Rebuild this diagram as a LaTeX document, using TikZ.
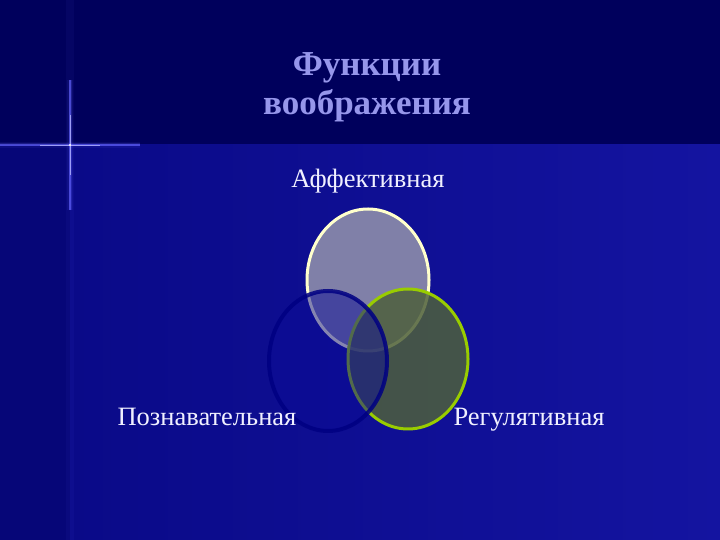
\documentclass[tikz,border=0pt]{standalone}
\usepackage{fontspec}
\setmainfont{Liberation Serif}
\usetikzlibrary{shapes.geometric}
\begin{document}
\begin{tikzpicture}[x=1pt,y=1pt,
  lbl/.style={text=white!94!blue, font=\fontsize{26.5}{30}\selectfont, inner sep=0pt, anchor=base},
  ttl/.style={text={rgb,255:red,150;green,150;blue,235}, font=\bfseries\fontsize{35}{39}\selectfont, align=center, inner sep=0pt}]
\definecolor{topband}{RGB}{0,0,92}
\definecolor{mainbg}{RGB}{10,10,136}
\definecolor{mainbg2}{RGB}{20,20,160}
\definecolor{leftbg}{RGB}{6,6,120}
\definecolor{afffill}{RGB}{128,128,168}
\definecolor{affline}{RGB}{255,255,204}
\definecolor{regfill}{RGB}{78,96,60}
\definecolor{regline}{RGB}{153,204,0}
\definecolor{cogfill}{RGB}{12,12,150}
\definecolor{cogline}{RGB}{0,0,130}
\useasboundingbox (0,0) rectangle (720,540);
% background
\fill[topband] (0,0) rectangle (720,540);
\shade[left color=mainbg, right color=mainbg2] (70,0) rectangle (720,395);
\fill[leftbg] (0,0) rectangle (70,395);
% sparkle
\draw[blue!60!white, line width=8pt, opacity=0.05] (70,0) -- (70,540);
\foreach \w/\o in {6/0.08,3/0.2,1.2/0.6}{
  \draw[blue!60!white, line width=\w pt, opacity=\o] (0,395) -- (140,395);
  \draw[blue!60!white, line width=\w pt, opacity=\o] (70,330) -- (70,460);
}
\draw[blue!30!white, line width=0.8pt, opacity=0.8] (40,395) -- (100,395);
\draw[blue!30!white, line width=0.8pt, opacity=0.8] (70,365) -- (70,425);
\fill[white] (70,395) circle (1.2);
% ellipses
\node[draw=affline, fill=afffill, line width=3pt, shape=ellipse, minimum width=122, minimum height=142, inner sep=0pt] (aff) at (368,260) {};
\fill[regfill, opacity=0.85] (408,181) ellipse (60 and 70);
\draw[regline, line width=3pt] (408,181) ellipse (60 and 70);
\fill[cogfill, opacity=0.5] (328,179) ellipse (59 and 70);
\draw[cogline, line width=4pt, opacity=0.85] (328,179) ellipse (59 and 70);
\coordinate (reg) at (408,181);
\coordinate (cog) at (328,179);
% labels
\node[lbl] (la) at (368,352) {Аффективная};
\node[lbl] (lc) at (207,114) {Познавательная};
\node[lbl] (lr) at (529,114) {Регулятивная};
\node[ttl] (t) at (367,453) {Функции\\воображения};
\end{tikzpicture}
\end{document}
